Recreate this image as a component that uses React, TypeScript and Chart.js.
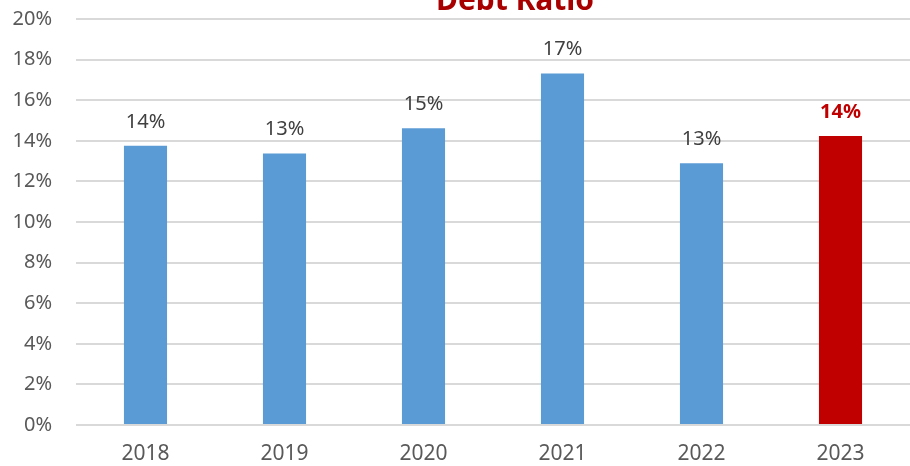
import React, { useEffect, useRef } from "react";
import { Chart, registerables } from "chart.js";

Chart.register(...registerables);

const categories = ["2018", "2019", "2020", "2021", "2022", "2023"];
const debtRatio = [13.76, 13.38, 14.62, 17.32, 12.89, 14.24];
const valueLabels = ["14%", "13%", "15%", "17%", "13%", "14%"];
const yTicks = [0, 2, 4, 6, 8, 10, 12, 14, 16, 18, 20];
const titleText = "Debt Ratio";
const highlightYear = "2023";

const BLUE = "#5b9bd5";
const RED = "#c00000";
const FONT = "'Noto Sans', 'DejaVu Sans', sans-serif";

const dataLabelPlugin = {
  id: "dataLabels",
  afterDatasetsDraw(chart: any) {
    const ctx = chart.ctx;
    const meta = chart.getDatasetMeta(0);
    ctx.save();
    ctx.textAlign = "center";
    ctx.textBaseline = "alphabetic";
    meta.data.forEach((el: any, i: number) => {
      const hl = categories[i] === highlightYear;
      ctx.font = `${hl ? "bold " : ""}20px ${FONT}`;
      ctx.fillStyle = hl ? RED : "#404040";
      ctx.fillText(valueLabels[i], el.x, el.y - 18);
    });
    ctx.restore();
  },
};

const clippedTitlePlugin = {
  id: "clippedTitle",
  afterDraw(chart: any) {
    const ctx = chart.ctx;
    ctx.save();
    ctx.textAlign = "center";
    ctx.textBaseline = "alphabetic";
    ctx.font = `bold 30px ${FONT}`;
    ctx.fillStyle = "#a80000";
    const cx = (chart.chartArea.left + chart.chartArea.right) / 2 + 22;
    ctx.fillText(titleText, cx, chart.chartArea.top - 9);
    ctx.restore();
  },
};

export default function App() {
  const ref = useRef<HTMLCanvasElement | null>(null);
  useEffect(() => {
    if (!ref.current) return;
    const chart = new Chart(ref.current, {
      type: "bar",
      data: {
        labels: categories,
        datasets: [
          {
            data: debtRatio,
            backgroundColor: categories.map((c) => (c === highlightYear ? RED : BLUE)),
            barPercentage: 0.31,
            categoryPercentage: 1,
          },
        ],
      },
      options: {
        responsive: false,
        animation: false,
        events: [],
        layout: { padding: { left: 0, right: 0, top: 19, bottom: 0 } },
        plugins: {
          legend: { display: false },
          tooltip: { enabled: false },
          title: { display: false },
        },
        scales: {
          x: {
            grid: { display: false, drawTicks: false },
            border: { display: false },
            ticks: {
              color: "#595959",
              font: { family: FONT, size: 21, lineHeight: 1 },
              padding: 19,
              maxRotation: 0,
            },
            afterFit(scale: any) {
              scale.height = 41;
            },
          },
          y: {
            min: 0,
            max: 20,
            afterBuildTicks(scale: any) {
              scale.ticks = yTicks.map((v) => ({ value: v }));
            },
            grid: {
              color: "#d9d9d9",
              lineWidth: 2,
              drawTicks: true,
              tickLength: 24,
              tickColor: "rgba(0,0,0,0)",
            },
            border: { display: false },
            ticks: {
              color: "#595959",
              font: { family: FONT, size: 20 },
              padding: 0,
              callback: (v: any) => `${v}%`,
            },
            afterFit(scale: any) {
              scale.width = 76;
            },
          },
        },
      },
      plugins: [dataLabelPlugin, clippedTitlePlugin],
    });
    return () => chart.destroy();
  }, []);
  return (
    <div style={{ position: "absolute", left: 0, top: 0, width: 910, height: 466, background: "#fff" }}>
      <canvas ref={ref} width={910} height={466} style={{ display: "block" }} />
    </div>
  );
}
